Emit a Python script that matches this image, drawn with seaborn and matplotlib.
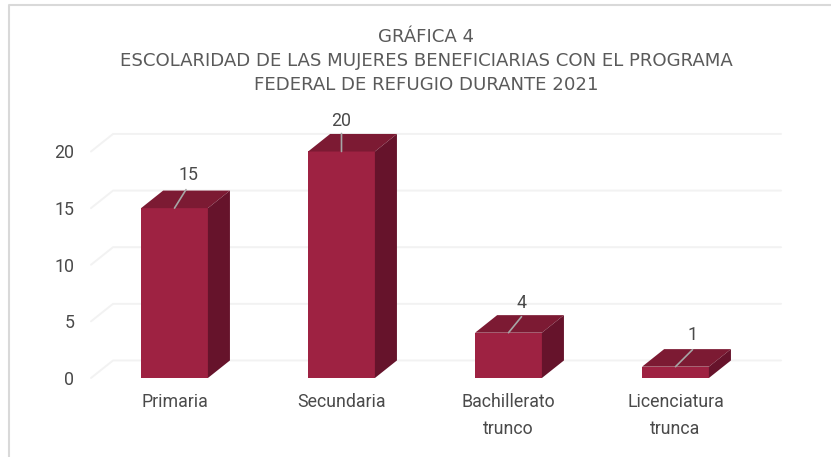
import matplotlib
matplotlib.use("Agg")
import matplotlib.pyplot as plt
import seaborn as sns
import pandas as pd
from matplotlib.patches import Polygon
from matplotlib.lines import Line2D

categories = ["Primaria", "Secundaria", "Bachillerato\ntrunco", "Licenciatura\ntrunca"]
values = [15, 20, 4, 1]
value_labels = ["15", "20", "4", "1"]
y_ticks = [0, 5, 10, 15, 20]
title_lines = ["GRÁFICA 4",
               "ESCOLARIDAD DE LAS MUJERES BENEFICIARIAS CON EL PROGRAMA",
               "FEDERAL DE REFUGIO DURANTE 2021"]

W, H = 831, 457
FRONT, TOP, SIDE = "#9E2242", "#7C1A33", "#66132B"
TEXT = "#4A4A4A"
sns.set_theme(style="white")
plt.rcParams["font.family"] = ["Roboto", "DejaVu Sans"]

fig = plt.figure(figsize=(W / 100, H / 100), dpi=100)
ax = fig.add_axes([91 / W, 1 - 378 / H, 668 / W, 226.5 / H])
df = pd.DataFrame({"cat": categories, "val": values})
sns.barplot(data=df, x="cat", y="val", color=FRONT, saturation=1, width=0.4, ax=ax, zorder=3, linewidth=0)
ax.set_xlim(-0.5, 3.5)
ax.set_ylim(0, 20)
ax.set_xlabel("")
ax.set_ylabel("")
sns.despine(ax=ax, left=True, bottom=True)
ax.patch.set_alpha(0)

ddx, ddy = 0.132, 1.55
for v in y_ticks:
    ax.plot([-0.5, -0.5 + ddx, 3.5 + ddx], [v, v + ddy, v + ddy], color="#F2F2F2", lw=1.4,
            clip_on=False, zorder=1)

hw = 0.2
offs = [(11.5, 18.5), (0, 18), (13, 16), (17, 17)]
lift = [6, 3, 5, 6]
shift = [2, 0, 0, 0]
for i, v in enumerate(values):
    l, r = i - hw, i + hw
    ax.add_patch(Polygon([(l, v), (r, v), (r + ddx, v + ddy), (l + ddx, v + ddy)], fc=TOP, ec="none",
                         clip_on=False, zorder=3))
    ax.add_patch(Polygon([(r, 0), (r + ddx, ddy), (r + ddx, v + ddy), (r, v)], fc=SIDE, ec="none",
                         clip_on=False, zorder=3))
    dx, dy = offs[i]
    ax.annotate("", xy=(i, v), xytext=(dx * .72, dy * .72), textcoords="offset points",
                arrowprops=dict(arrowstyle="-", color="#A6A6A6", lw=1.2, shrinkA=0, shrinkB=0),
                annotation_clip=False, zorder=5)
    ax.annotate(value_labels[i], xy=(i, v), xytext=((dx + shift[i]) * .72, (dy + lift[i]) * .72),
                textcoords="offset points", ha="center", va="bottom", fontsize=12.8, color=TEXT,
                annotation_clip=False, zorder=6)

ax.set_yticks(y_ticks)
ax.tick_params(axis="y", length=0, pad=12, labelsize=12.8, labelcolor=TEXT)
ax.tick_params(axis="x", length=0, pad=11, labelsize=12.8, labelcolor=TEXT)
for t in ax.get_xticklabels():
    t.set_linespacing(1.6)

for line, y in zip(title_lines, [37.5, 61, 85]):
    fig.text(426 / W, 1 - y / H, line, ha="center", va="center", fontsize=13.1, color="#5A5A5A",
             family="DejaVu Sans")

fig.add_artist(Line2D([8.5 / W, 8.5 / W, 1], [0, 1 - 5 / H, 1 - 5 / H], transform=fig.transFigure,
                      color="#D9D9D9", lw=1.5))
fig.savefig("out.png", dpi=100)
